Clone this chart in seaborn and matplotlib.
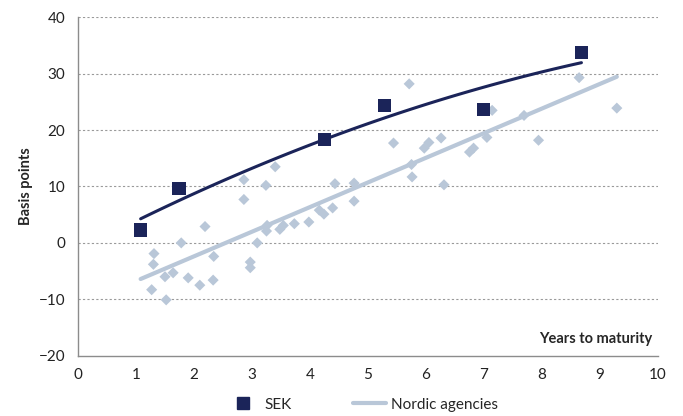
import seaborn as sns
import pandas as pd
import matplotlib.pyplot as plt
import numpy as np
from matplotlib.lines import Line2D

sns.set_style('white')
plt.rcParams['font.family'] = ['Lato', 'DejaVu Sans']

# SEK bonds
sek_years = [1.08, 1.74, 4.25, 5.28, 6.99, 8.68]
sek_bp = [2.3, 9.6, 18.3, 24.3, 23.6, 33.7]

# Nordic agencies
nordic_years = [1.31, 1.30, 1.27, 1.52, 1.50, 1.64, 1.78, 1.90, 2.10, 2.19,
                2.34, 2.33, 2.86, 2.86, 2.97, 2.97, 3.09, 3.24, 3.26, 3.25,
                3.40, 3.48, 3.54, 3.73, 3.98, 4.16, 4.24, 4.39, 4.43, 4.76,
                4.76, 5.75, 5.76, 5.71, 5.44, 5.97, 6.05, 6.26, 6.31, 6.75,
                6.82, 7.05, 7.14, 7.69, 7.94, 8.64, 9.29]
nordic_bp = [-1.9, -3.8, -8.3, -10.1, -6.0, -5.3, 0.0, -6.2, -7.5, 2.9,
             -2.4, -6.6, 11.2, 7.7, -3.4, -4.4, 0.0, 10.2, 3.1, 2.1,
             13.5, 2.4, 3.1, 3.4, 3.7, 5.8, 5.1, 6.2, 10.5, 10.6,
             7.4, 13.9, 11.7, 28.2, 17.7, 16.8, 17.8, 18.6, 10.3, 16.1,
             16.8, 18.7, 23.5, 22.6, 18.2, 29.3, 23.9]

sek_color = '#1b2459'
nordic_color = '#b9c7d8'

df_sek = pd.DataFrame({'Years': sek_years, 'bp': sek_bp})
df_nor = pd.DataFrame({'Years': nordic_years, 'bp': nordic_bp})

# trend lines fitted to the data
x_sek = np.linspace(min(sek_years), max(sek_years), 100)
fit_sek = np.polyval(np.polyfit(sek_years, sek_bp, 2), x_sek)
x_nor = np.linspace(min(sek_years), max(nordic_years), 100)
fit_nor = np.polyval(np.polyfit(nordic_years, nordic_bp, 1), x_nor)

fig = plt.figure(figsize=(6.83, 4.16), dpi=100)
ax = fig.add_axes([0.1142, 0.145, 0.8492, 0.8134])

for y in range(-10, 41, 10):
    ax.axhline(y, color='#9a9a9a', linestyle=(0, (2, 2)), linewidth=0.8, zorder=0)

sns.scatterplot(data=df_nor, x='Years', y='bp', marker='D', s=32, color=nordic_color,
                edgecolor='none', ax=ax, zorder=2)
sns.lineplot(x=x_nor, y=fit_nor, color=nordic_color, linewidth=3, ax=ax, zorder=3)
sns.lineplot(x=x_sek, y=fit_sek, color=sek_color, linewidth=2.2, ax=ax, zorder=4)
sns.scatterplot(data=df_sek, x='Years', y='bp', marker='s', s=90, color=sek_color,
                edgecolor='none', ax=ax, zorder=5)

ax.set_xlim(0, 10)
ax.set_ylim(-20, 40)
ax.set_xticks(range(0, 11))
ax.set_yticks(range(-20, 41, 10))
ax.set_xlabel('')
ax.set_ylabel('Basis points', fontsize=10.5, fontweight='bold')
ax.text(9.9, -17.1, 'Years to maturity', fontsize=10.5, fontweight='bold',
        ha='right', va='center')

for s in ['top', 'right']:
    ax.spines[s].set_visible(False)
for s in ['left', 'bottom']:
    ax.spines[s].set_color('#8c8c8c')
    ax.spines[s].set_linewidth(1)
ax.tick_params(axis='both', direction='out', length=5, color='#8c8c8c',
               labelsize=11, colors='#8c8c8c', labelcolor='#222222', pad=4)

handles = [Line2D([], [], marker='s', linestyle='none', color=sek_color, markersize=9),
           Line2D([], [], color=nordic_color, linewidth=3)]
ax.legend(handles, ['SEK', 'Nordic agencies'], loc='center', bbox_to_anchor=(0.49, -0.145),
          ncol=2, frameon=False, fontsize=11, columnspacing=4.0, handlelength=2.2,
          handletextpad=0.3)

plt.savefig('out.png', dpi=100)
